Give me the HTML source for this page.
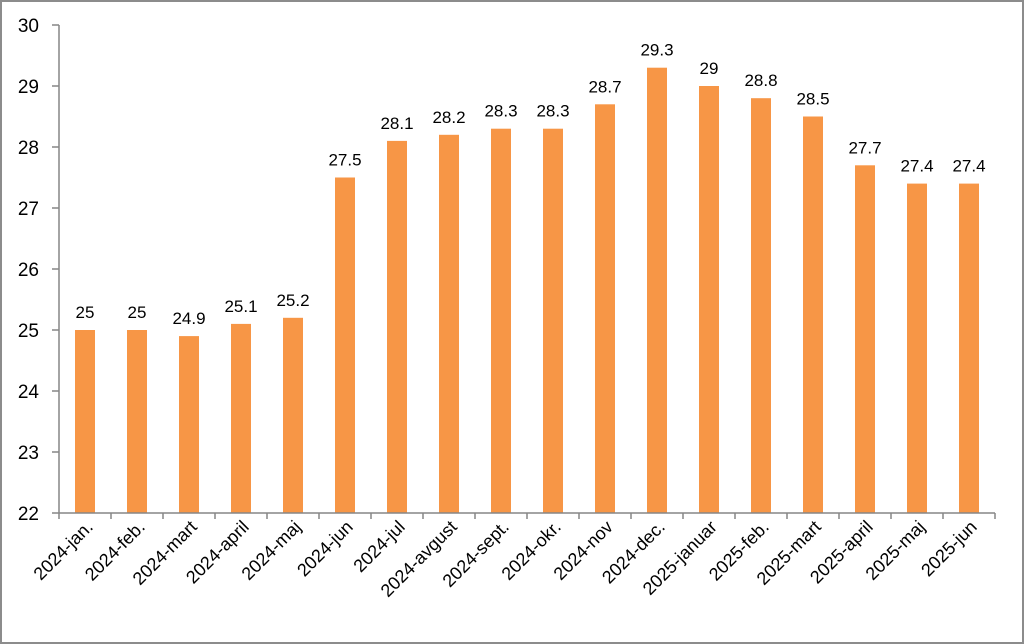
<!DOCTYPE html>
<html><head><meta charset="utf-8"><style>
html,body{margin:0;padding:0;background:#fff}
svg{display:block;font-family:"Liberation Sans","DejaVu Sans",sans-serif}
</style></head><body>
<svg id="chart" width="1024" height="644" viewBox="0 0 1024 644">
<rect x="1" y="1" width="1022" height="642" fill="#fff" stroke="#8c8c8c" stroke-width="2"/>
<g id="yaxis"></g><g id="bars"></g><g id="xaxis"></g>
</svg>
<script>
const categories=["2024-jan.","2024-feb.","2024-mart","2024-april","2024-maj","2024-jun","2024-jul","2024-avgust","2024-sept.","2024-okr.","2024-nov","2024-dec.","2025-januar","2025-feb.","2025-mart","2025-april","2025-maj","2025-jun"];
const values=[25,25,24.9,25.1,25.2,27.5,28.1,28.2,28.3,28.3,28.7,29.3,29,28.8,28.5,27.7,27.4,27.4];
const valueLabels=["25","25","24.9","25.1","25.2","27.5","28.1","28.2","28.3","28.3","28.7","29.3","29","28.8","28.5","27.7","27.4","27.4"];
const yTicks=[22,23,24,25,26,27,28,29,30];
const NS="http://www.w3.org/2000/svg";
const x0=59,y0=513,yMin=22,yMax=30,plotH=488,band=52,barW=20;
const y=v=>y0-(v-yMin)/(yMax-yMin)*plotH;
const xc=i=>x0+band*i+band/2;
function mk(t,a,p){const e=document.createElementNS(NS,t);for(const k in a)e.setAttribute(k,a[k]);p.appendChild(e);return e;}
const ya=document.getElementById('yaxis'),bg=document.getElementById('bars'),xa=document.getElementById('xaxis');
const axisY=mk('line',{x1:x0,y1:y(yMax),x2:x0,y2:y0,stroke:'#868686','stroke-width':1.5},ya);


yTicks.forEach(v=>{
 const tk=mk('line',{x1:x0-7,y1:y(v),x2:x0,y2:y(v),stroke:'#868686','stroke-width':1.5},ya);
 
 
 const t=mk('text',{x:39,y:y(v)+7,'text-anchor':'end','font-size':19,fill:'#000'},ya);
 t.textContent=v;
 
 
});
const axisX=mk('line',{x1:x0,y1:y0,x2:x0+band*categories.length,y2:y0,stroke:'#868686','stroke-width':1.5},xa);


for(let i=0;i<=categories.length;i++){
 const tk=mk('line',{x1:x0+band*i,y1:y0,x2:x0+band*i,y2:y0+6,stroke:'#868686','stroke-width':1.5},xa);
 
 
}
categories.forEach((c,i)=>{
 const v=values[i];
 const r=mk('rect',{x:xc(i)-barW/2,y:y(v),width:barW,height:y0-y(v),fill:'#f79646'},bg);
 
 
 const vl=mk('text',{x:xc(i),y:y(v)-12,'text-anchor':'middle','font-size':17,fill:'#000'},bg);
 vl.textContent=valueLabels[i];
 
 
 const cx=xc(i)+9,cy=y0+15;
 const t=mk('text',{x:cx,y:cy,'text-anchor':'end','font-size':18,fill:'#000',transform:`rotate(-45 ${cx} ${cy})`},xa);
 t.textContent=c;
 
 
});
</script>
</body></html>
